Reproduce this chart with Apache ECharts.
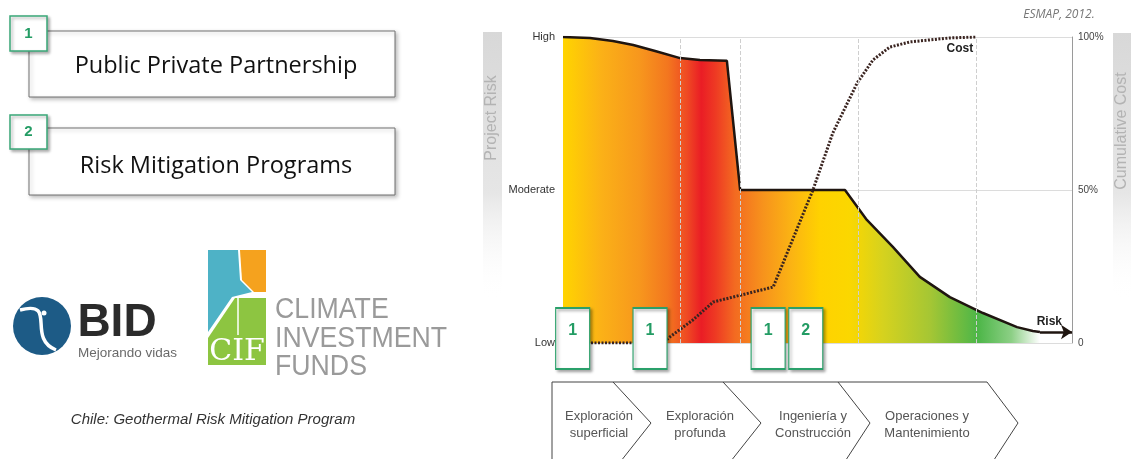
<!DOCTYPE html>
<html>
<head>
<meta charset="utf-8">
<script src="https://cdn.jsdelivr.net/npm/echarts@6/dist/echarts.min.js"></script>
<style>
  html, body { margin: 0; padding: 0; background: #fff; }
  #chart { width: 1131px; height: 459px; }
</style>
</head>
<body>
<div id="chart"></div>
<script>
// project risk curve (x = % of project timeline, y: 0 Low / 50 Moderate / 100 High)
const riskX = [0, 5.3, 9.8, 13.8, 18.1, 23, 26.9, 32.2, 34.8, 55.4, 59.7, 64.8, 70.1, 76, 82.5, 89.2, 92.3, 93.7];
const riskY = [100, 99.7, 98.7, 97.4, 95.4, 93.1, 92.5, 92.2, 50, 50, 40.2, 31.4, 21.6, 15, 9.8, 5.2, 3.9, 3.6];

// cumulative cost curve (% of total)
const costX = [0, 19.6, 21, 25.5, 29.5, 41.3, 49.1, 53, 57.8, 60.9, 64.2, 68.2, 76, 81.3];
const costY = [0, 0, 2, 7.5, 13.4, 18.3, 50, 68.6, 85, 92.5, 96.7, 98.4, 99.7, 100];

// dashed phase guides
const phaseLines = [23, 34.8, 58, 81.1];

// instrument markers along the timeline
const markerX = [1.9, 17.1, 40.3, 47.7];
const markerText = ['1', '1', '1', '2'];

const riskTicks = { 0: 'Low', 50: 'Moderate', 100: 'High' };
const costTicks = { 0: '0', 50: '50%', 100: '100%' };

const phases = [
  'Exploración\nsuperficial',
  'Exploración\nprofunda',
  'Ingeniería y\nConstrucción',
  'Operaciones y\nMantenimiento'
];
const phaseCenters = [599, 700, 813, 927];

const GREEN = '#239c64';
const LABEL_FONT = '"Liberation Sans", Arial';

function txt(x, y, text, font, fill, extra) {
  return Object.assign({
    type: 'text', x: x, y: y, silent: true,
    style: {
      text: text, font: font, fill: fill,
      textAlign: 'center', textVerticalAlign: 'middle',
      align: 'center', verticalAlign: 'middle'
    }
  }, extra || {});
}

function leftTxt(x, y, text, font, fill, extra) {
  const el = txt(x, y, text, font, fill, extra);
  el.style.textAlign = el.style.align = 'left';
  return el;
}

function numberBox(x, y, w, h, label) {
  return [
    {
      type: 'rect', shape: { x: x, y: y, width: w, height: h },
      style: {
        fill: '#fff', stroke: '#3aa878', lineWidth: 1.5,
        shadowBlur: 3, shadowOffsetX: 2, shadowOffsetY: 2, shadowColor: 'rgba(0,0,0,0.3)'
      }
    },
    txt(x + w / 2, y + h / 2, label, 'bold 15px ' + LABEL_FONT, GREEN)
  ];
}

function titleBox(y, h) {
  return {
    type: 'rect', shape: { x: 29, y: y, width: 366, height: h },
    style: {
      fill: '#fff', stroke: '#707070', lineWidth: 1,
      shadowBlur: 4, shadowOffsetX: 2, shadowOffsetY: 2, shadowColor: 'rgba(0,0,0,0.25)'
    }
  };
}

const elements = [];

// left: programme boxes
elements.push(titleBox(31, 66));
elements.push(txt(216, 66, 'Public Private Partnership', '23.5px "Open Sans", Lato, sans-serif', '#111'));
elements.push(...numberBox(10, 16, 37, 35, '1'));
elements.push(titleBox(128, 67));
elements.push(txt(216, 166, 'Risk Mitigation Programs', '23.5px "Open Sans", Lato, sans-serif', '#111'));
elements.push(...numberBox(10, 115, 37, 34, '2'));

// BID logo
elements.push({ type: 'circle', shape: { cx: 42, cy: 326, r: 29 }, style: { fill: '#1d5b86' } });
elements.push({
  type: 'bezierCurve',
  shape: { x1: 20, y1: 310, x2: 56, y2: 350, cpx1: 58, cpy1: 300, cpx2: 26, cpy2: 338 },
  style: { stroke: '#fff', lineWidth: 3.5, fill: null }
});
elements.push({ type: 'circle', shape: { cx: 44, cy: 313, r: 2.5 }, style: { fill: '#fff' } });
elements.push(txt(117, 323, 'BID', 'bold 46px ' + LABEL_FONT, '#2b2b2b'));
elements.push(leftTxt(78, 353, 'Mejorando vidas', '13.5px ' + LABEL_FONT, '#6a6a6a'));

// CIF logo
elements.push({ type: 'polygon', shape: { points: [[208, 250], [238, 250], [240, 280], [252, 292], [232, 297], [208, 332]] }, style: { fill: '#4eb2c6' } });
elements.push({ type: 'polygon', shape: { points: [[240, 250], [266, 250], [266, 292], [254, 292], [242, 280]] }, style: { fill: '#f5a21e' } });
elements.push({ type: 'polygon', shape: { points: [[208, 338], [235, 298], [266, 298], [266, 365], [208, 365]] }, style: { fill: '#8dc541' } });
elements.push({ type: 'line', shape: { x1: 238, y1: 298, x2: 238, y2: 335 }, style: { stroke: '#fff', lineWidth: 1.5 } });
elements.push(txt(237, 352, 'CIF', '30px "DejaVu Serif", serif', '#fff'));
['CLIMATE', 'INVESTMENT', 'FUNDS'].forEach(function (w, i) {
  elements.push(leftTxt(275, 310 + i * 28.5, w, '30px ' + LABEL_FONT, '#9a9a9a', { scaleX: 0.89 }));
});
elements.push(txt(213, 420, 'Chile: Geothermal Risk Mitigation Program', 'italic 15px ' + LABEL_FONT, '#333'));

// axis title bars
const barFade = { type: 'linear', x: 0, y: 0, x2: 0, y2: 1, colorStops: [
  { offset: 0, color: '#d8d8d8' }, { offset: 0.6, color: '#e6e6e6' }, { offset: 1, color: 'rgba(255,255,255,0)' }] };
elements.push({ type: 'rect', shape: { x: 483, y: 32, width: 19, height: 268 }, style: { fill: barFade } });
elements.push(txt(492, 118, 'Project Risk', '16px ' + LABEL_FONT, '#b3b3b3', { rotation: Math.PI / 2 }));
elements.push({ type: 'rect', shape: { x: 1113, y: 33, width: 18, height: 268 }, style: { fill: barFade } });
elements.push(txt(1122, 131, 'Cumulative Cost', '16px ' + LABEL_FONT, '#b3b3b3', { rotation: Math.PI / 2 }));
elements.push(txt(1059, 15, 'ESMAP, 2012.', 'italic 12px "Open Sans", sans-serif', '#777'));

// project phase chevrons
elements.push({
  type: 'polyline', shape: { points: [[552, 466], [552, 382], [987, 382], [1018, 423], [990, 466]] },
  style: { stroke: '#444', lineWidth: 1, fill: null }
});
[[613, 651, 617], [723, 761, 727], [838, 870, 842]].forEach(function (c) {
  elements.push({
    type: 'polyline', shape: { points: [[c[0], 382], [c[1], 423], [c[2], 466]] },
    style: { stroke: '#444', lineWidth: 1, fill: null }
  });
});
phases.forEach(function (p, i) {
  const el = txt(phaseCenters[i], 425, p, '13px ' + LABEL_FONT, '#555');
  el.style.lineHeight = 17;
  elements.push(el);
});

const boldLabel = { color: '#222', fontWeight: 'bold', fontSize: 12, fontFamily: LABEL_FONT };

const chart = echarts.init(document.getElementById('chart'), null, { renderer: 'canvas' });

chart.setOption({
  animation: false,
  backgroundColor: '#fff',
  grid: { left: 563, right: 59, top: 37, bottom: 116 },
  xAxis: {
    type: 'value', min: 0, max: 100,
    axisLine: { show: false }, axisTick: { show: false },
    axisLabel: { show: false }, splitLine: { show: false }
  },
  yAxis: [
    {
      type: 'value', min: 0, max: 100, interval: 50,
      axisLine: { show: false }, axisTick: { show: false },
      axisLabel: { margin: 8, color: '#333', fontSize: 11, fontFamily: LABEL_FONT, formatter: v => riskTicks[v] || '' },
      splitLine: { lineStyle: { color: '#dcdcdc', width: 1 } }
    },
    {
      type: 'value', min: 0, max: 100, interval: 50, position: 'right',
      axisLine: { show: true, lineStyle: { color: '#9a9a9a', width: 1 } },
      axisTick: { show: false },
      axisLabel: { margin: 6, color: '#444', fontSize: 10, fontFamily: LABEL_FONT, formatter: v => costTicks[v] || '' },
      splitLine: { show: false }
    }
  ],
  series: [
    {
      name: 'phases', type: 'line', data: [], z: 1, silent: true,
      markLine: {
        silent: true, symbol: 'none', label: { show: false },
        lineStyle: { color: '#cfcfcf', type: 'dashed', width: 1 },
        data: phaseLines.map(x => ({ xAxis: x }))
      }
    },
    {
      name: 'Risk', type: 'line', z: 2,
      data: riskX.map((x, i) => [x, riskY[i]]),
      symbol: 'none', smooth: false,
      lineStyle: { color: '#1f1510', width: 2.5 },
      areaStyle: {
        opacity: 1,
        color: {
          type: 'linear', x: 0, y: 0, x2: 1, y2: 0,
          colorStops: [
            { offset: 0, color: '#ffd400' },
            { offset: 0.08, color: '#fbb117' },
            { offset: 0.16, color: '#f7971d' },
            { offset: 0.22, color: '#f3761f' },
            { offset: 0.26, color: '#ef4a23' },
            { offset: 0.29, color: '#ea1d25' },
            { offset: 0.32, color: '#ee3a23' },
            { offset: 0.36, color: '#f36a21' },
            { offset: 0.42, color: '#f7931c' },
            { offset: 0.48, color: '#fbb413' },
            { offset: 0.54, color: '#ffd200' },
            { offset: 0.60, color: '#fbd700' },
            { offset: 0.67, color: '#d6d21e' },
            { offset: 0.77, color: '#a5c634' },
            { offset: 0.87, color: '#4db648' },
            { offset: 0.94, color: '#8ccf85' },
            { offset: 1, color: '#ffffff' }
          ]
        }
      },
      markLine: {
        silent: true, symbol: ['none', 'arrow'], symbolSize: [11, 11],
        lineStyle: { color: '#1f1510', width: 2.5, type: 'solid' },
        label: Object.assign({ show: true, position: 'insideEndTop', formatter: 'Risk', distance: [10, 4] }, boldLabel),
        data: [[{ coord: [riskX[riskX.length - 1], riskY[riskY.length - 1]] }, { coord: [100, riskY[riskY.length - 1]] }]]
      }
    },
    {
      name: 'Cost', type: 'line', yAxisIndex: 1, z: 3,
      data: costX.map((x, i) => [x, costY[i]]),
      symbol: 'none',
      lineStyle: { color: '#3a2420', width: 3, type: [2, 1.5] },
      markPoint: {
        silent: true, symbol: 'circle', symbolSize: 1,
        itemStyle: { color: 'rgba(0,0,0,0)' },
        label: Object.assign({ show: true, position: 'inside', offset: [-17, 12], formatter: 'Cost' }, boldLabel),
        data: [{ coord: [costX[costX.length - 1], costY[costY.length - 1]] }]
      }
    },
    {
      name: 'markers', type: 'scatter', z: 5, clip: false, silent: true,
      data: markerX.map((x, i) => ({ value: [x, 1.5], name: markerText[i] })),
      symbol: 'rect', symbolSize: [34, 61],
      itemStyle: {
        color: '#fff', opacity: 1, borderColor: '#2aa06a', borderWidth: 1.5,
        shadowBlur: 3, shadowOffsetX: 2, shadowOffsetY: 2, shadowColor: 'rgba(0,0,0,0.35)'
      },
      label: {
        show: true, position: 'inside', offset: [0, -8], formatter: p => p.name,
        color: GREEN, fontWeight: 'bold', fontSize: 16, fontFamily: LABEL_FONT
      }
    }
  ],
  graphic: { elements: elements }
});
</script>
</body>
</html>
